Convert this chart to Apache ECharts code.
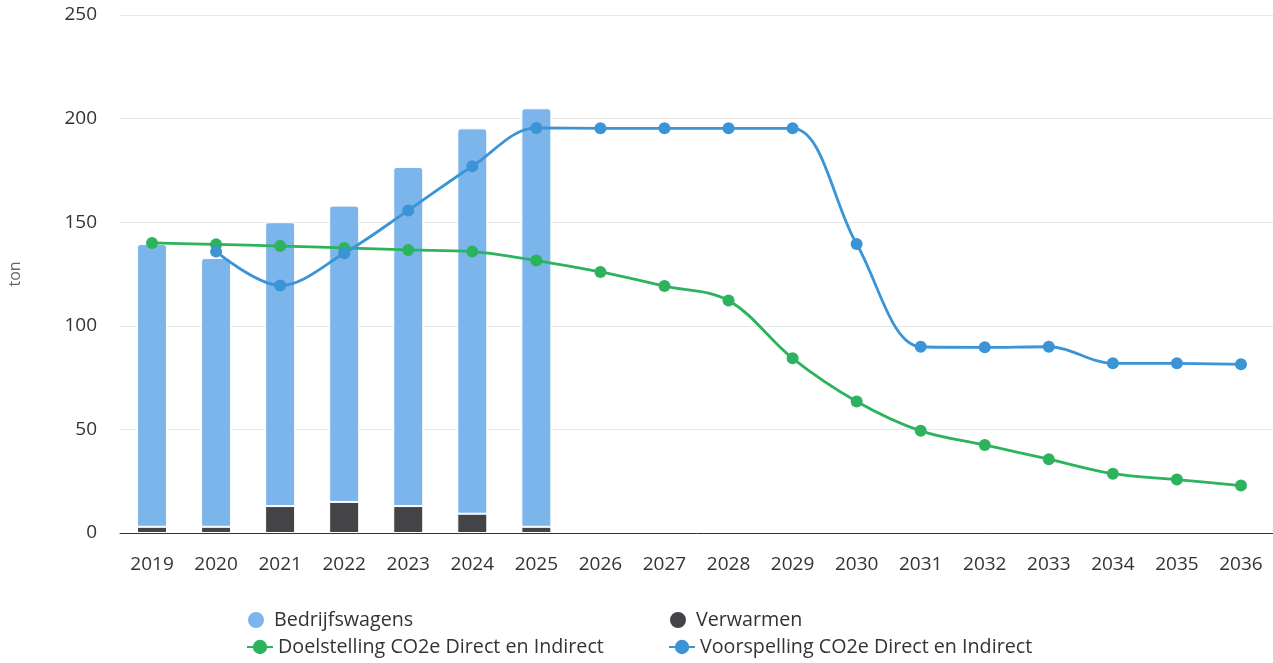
<!DOCTYPE html>
<html>
<head>
<meta charset="utf-8">
<script src="https://cdn.jsdelivr.net/npm/echarts@6/dist/echarts.min.js"></script>
<style>html,body{margin:0;padding:0;background:#fff}#c{width:1273px;height:663px}</style>
</head>
<body>
<div id="c"></div>
<script>
const years = ['2019','2020','2021','2022','2023','2024','2025','2026','2027','2028','2029','2030','2031','2032','2033','2034','2035','2036'];
const bedrijfswagens = [136.5, 129.7, 137, 143, 163.7, 186, 202, null, null, null, null, null, null, null, null, null, null, null];
const verwarmen = [3, 3, 13, 15, 13, 9.3, 3, null, null, null, null, null, null, null, null, null, null, null];
const doelstelling = [140, 139.3, 138.5, 137.6, 136.6, 135.8, 131.5, 126, 119.2, 112.2, 84.3, 63.5, 49.3, 42.5, 35.6, 28.6, 25.8, 22.9];
const voorspelling = [null, 135.8, 119.5, 135, 155.7, 177, 195.5, 195.3, 195.3, 195.3, 195.3, 139.5, 89.9, 89.6, 89.9, 81.9, 81.9, 81.4];
const yTicks = {min: 0, max: 250, interval: 50};

const FONT = '"Open Sans", sans-serif';
const legendText = {fontSize: 19.7, color: '#333', fontFamily: FONT};
function leg(name, icon, left, top) {
  const d = icon ? {name: name, icon: icon} : name;
  return {left: left, top: top, itemWidth: 26, itemHeight: 18, padding: 0, textStyle: legendText, data: [d]};
}
const chart = echarts.init(document.getElementById('c'));
chart.setOption({
  animation: false,
  textStyle: {fontFamily: FONT},
  grid: {left: 120, right: 0, top: 15, bottom: 130, containLabel: false, outerBoundsMode: 'none'},
  xAxis: {
    type: 'category', data: years, boundaryGap: true,
    axisLine: {lineStyle: {color: '#333', width: 1}},
    axisTick: {show: false},
    axisLabel: {color: '#333', fontSize: 19, margin: 22, fontFamily: FONT}
  },
  yAxis: {
    type: 'value', min: yTicks.min, max: yTicks.max, interval: yTicks.interval,
    name: 'ton', nameLocation: 'middle', nameGap: 97, nameRotate: 90,
    nameTextStyle: {color: '#666', fontSize: 16, fontFamily: FONT},
    axisLine: {show: false}, axisTick: {show: false},
    splitLine: {lineStyle: {color: '#e6e6e6', width: 1}},
    axisLabel: {color: '#333', fontSize: 19, margin: 23, fontFamily: FONT}
  },
  legend: [
    leg('Bedrijfswagens', 'circle', 246, 610),
    leg('Doelstelling CO2e Direct en Indirect', null, 246, 637),
    leg('Verwarmen', 'circle', 668, 610),
    leg('Voorspelling CO2e Direct en Indirect', null, 668, 637)
  ],
  series: [
    {name: 'Verwarmen', type: 'bar', stack: 's', data: verwarmen, barWidth: 30,
     itemStyle: {color: '#434348', borderColor: '#fff', borderWidth: 1}},
    {name: 'Bedrijfswagens', type: 'bar', stack: 's', data: bedrijfswagens, barWidth: 30,
     itemStyle: {color: '#7cb5ec', borderColor: '#fff', borderWidth: 1, borderRadius: [3,3,0,0]}},
    {name: 'Doelstelling CO2e Direct en Indirect', type: 'line', data: doelstelling, smooth: 0.35,
     symbol: 'circle', symbolSize: 12, z: 5,
     lineStyle: {color: '#2db35d', width: 2.8}, itemStyle: {color: '#2db35d'}},
    {name: 'Voorspelling CO2e Direct en Indirect', type: 'line', data: voorspelling, smooth: 0.35,
     symbol: 'circle', symbolSize: 12, z: 6, connectNulls: false,
     lineStyle: {color: '#3a94d6', width: 2.8}, itemStyle: {color: '#3a94d6'}}
  ]
});
</script>
</body>
</html>
